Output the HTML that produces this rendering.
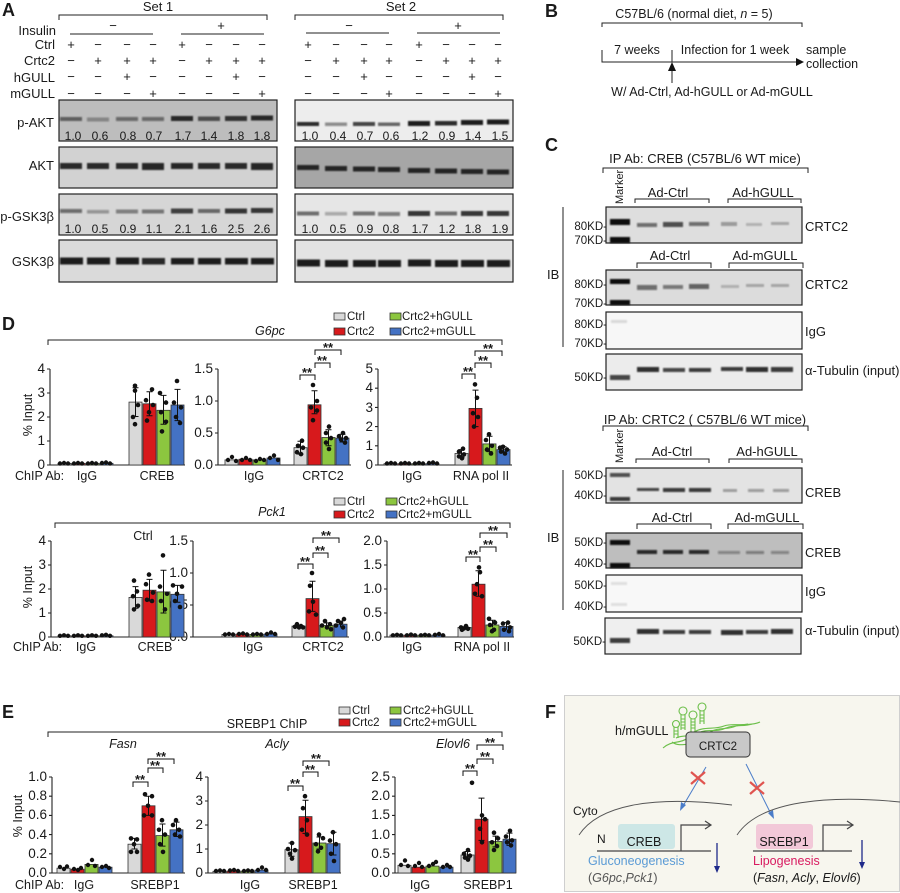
<!DOCTYPE html>
<html><head><meta charset="utf-8"><style>
html,body{margin:0;padding:0;background:#fff;}
svg{display:block;}
text{font-family:"Liberation Sans",Arial,sans-serif;fill:#1a1a1a;}
</style></head><body>
<svg width="900" height="893" viewBox="0 0 900 893" xmlns="http://www.w3.org/2000/svg">
<defs>
<filter id="b" x="-20%" y="-100%" width="140%" height="300%"><feGaussianBlur stdDeviation="0.9"/></filter>
</defs>
<rect width="900" height="893" fill="#fff"/>

<!-- ================= PANEL A ================= -->
<text x="2" y="16" font-size="18" font-weight="bold">A</text>
<text x="158" y="11" font-size="13" text-anchor="middle">Set 1</text>
<text x="401" y="11" font-size="13" text-anchor="middle">Set 2</text>
<g stroke="#222" stroke-width="1" fill="none">
<path d="M59 20V15H267V20"/><path d="M295 20V15H503V20"/>
<path d="M70 34H153M181 34H264M306 33H389M417 33H500"/>
</g>
<g font-size="13" text-anchor="end">
<text x="56" y="35">Insulin</text>
<text x="55" y="49">Ctrl</text>
<text x="55" y="65">Crtc2</text>
<text x="55" y="82">hGULL</text>
<text x="55" y="98">mGULL</text>
</g>
<g font-size="13" text-anchor="middle">
<text x="113" y="30">−</text><text x="221" y="30">+</text>
<text x="349" y="30">−</text><text x="458" y="30">+</text>
<text x="71 98 127 153 182 209 236 262 308 336 364 389 419 446 472 498" y="49">+−−−+−−−+−−−+−−−</text>
<text x="71 98 127 153 182 209 236 262 308 336 364 389 419 446 472 498" y="65">−+++−+++−+++−+++</text>
<text x="71 98 127 153 182 209 236 262 308 336 364 389 419 446 472 498" y="81">−−+−−−+−−−+−−−+−</text>
<text x="71 98 127 153 182 209 236 262 308 336 364 389 419 446 472 498" y="98">−−−+−−−+−−−+−−−+</text>
</g>
<!-- blot boxes -->
<g stroke="#222" stroke-width="1.2">
<rect x="59" y="100" width="218" height="41" fill="#bdbdbd"/>
<rect x="59" y="147" width="218" height="41" fill="#d2d2d2"/>
<rect x="59" y="194" width="218" height="41" fill="#d6d6d6"/>
<rect x="59" y="240" width="218" height="42" fill="#dadada"/>
<rect x="295" y="100" width="218" height="41" fill="#ededed"/>
<rect x="295" y="147" width="218" height="41" fill="#a6a6a6"/>
<rect x="295" y="194" width="218" height="41" fill="#e6e6e6"/>
<rect x="295" y="240" width="218" height="42" fill="#e3e3e3"/>
</g>
<g fill="#1a1a1a" filter="url(#b)">
<rect x="60" y="117" width="22" height="4" opacity="0.6"/>
<rect x="87" y="117.5" width="22" height="4" opacity="0.35"/>
<rect x="116" y="117" width="22" height="4" opacity="0.5"/>
<rect x="142" y="117" width="22" height="4" opacity="0.5"/>
<rect x="171" y="116" width="22" height="5" opacity="0.9"/>
<rect x="198" y="116.5" width="22" height="4.5" opacity="0.7"/>
<rect x="225" y="116" width="22" height="5" opacity="0.85"/>
<rect x="251" y="115.5" width="22" height="5" opacity="0.9"/>
<rect x="297" y="122" width="22" height="4" opacity="0.9"/>
<rect x="325" y="122.5" width="22" height="3.5" opacity="0.45"/>
<rect x="353" y="122" width="22" height="4" opacity="0.8"/>
<rect x="378" y="122.5" width="22" height="3.5" opacity="0.65"/>
<rect x="408" y="121" width="22" height="5" opacity="1"/>
<rect x="435" y="121" width="22" height="4.5" opacity="0.9"/>
<rect x="461" y="120" width="22" height="5" opacity="1"/>
<rect x="487" y="119.5" width="22" height="5" opacity="1"/>
<rect x="60" y="163" width="22" height="6" opacity="0.9"/>
<rect x="87" y="163" width="22" height="6" opacity="0.9"/>
<rect x="116" y="163" width="22" height="6" opacity="0.9"/>
<rect x="142" y="163" width="22" height="7" opacity="0.95"/>
<rect x="171" y="163" width="22" height="6" opacity="0.95"/>
<rect x="198" y="163" width="22" height="6" opacity="0.9"/>
<rect x="225" y="163" width="22" height="6" opacity="0.9"/>
<rect x="251" y="163" width="22" height="7" opacity="0.95"/>
<rect x="297" y="165" width="22" height="5" opacity="0.95"/>
<rect x="325" y="166" width="22" height="5" opacity="0.95"/>
<rect x="353" y="166.5" width="22" height="5" opacity="0.95"/>
<rect x="378" y="167" width="22" height="5" opacity="0.95"/>
<rect x="408" y="168" width="22" height="5" opacity="0.95"/>
<rect x="435" y="168.5" width="22" height="5" opacity="0.95"/>
<rect x="461" y="169" width="22" height="5" opacity="0.95"/>
<rect x="487" y="169.5" width="22" height="5" opacity="0.95"/>
<rect x="60" y="209" width="22" height="4" opacity="0.55"/>
<rect x="87" y="210" width="22" height="3.5" opacity="0.35"/>
<rect x="116" y="209.5" width="22" height="4" opacity="0.45"/>
<rect x="142" y="209.5" width="22" height="4" opacity="0.5"/>
<rect x="171" y="208.5" width="22" height="5" opacity="0.8"/>
<rect x="198" y="209" width="22" height="4" opacity="0.6"/>
<rect x="225" y="208.5" width="22" height="5" opacity="0.85"/>
<rect x="251" y="208" width="22" height="5" opacity="0.85"/>
<rect x="297" y="211.5" width="22" height="4" opacity="0.6"/>
<rect x="325" y="212" width="22" height="3.5" opacity="0.3"/>
<rect x="353" y="211.5" width="22" height="4" opacity="0.55"/>
<rect x="378" y="212" width="22" height="4" opacity="0.5"/>
<rect x="408" y="211" width="22" height="5" opacity="0.85"/>
<rect x="435" y="211.5" width="22" height="4" opacity="0.6"/>
<rect x="461" y="211" width="22" height="5" opacity="0.85"/>
<rect x="487" y="211" width="22" height="5" opacity="0.85"/>
<rect x="60" y="257.5" width="23" height="7" opacity="1"/>
<rect x="87" y="257.5" width="23" height="7" opacity="1"/>
<rect x="116" y="257.5" width="23" height="7" opacity="1"/>
<rect x="142" y="258" width="23" height="6.5" opacity="0.95"/>
<rect x="171" y="258" width="23" height="6.5" opacity="1"/>
<rect x="198" y="258" width="23" height="6.5" opacity="1"/>
<rect x="225" y="258" width="23" height="6.5" opacity="1"/>
<rect x="251" y="258" width="23" height="6.5" opacity="1"/>
<rect x="297" y="259.5" width="23" height="7" opacity="1"/>
<rect x="325" y="260" width="23" height="7" opacity="1"/>
<rect x="353" y="260" width="23" height="7" opacity="1"/>
<rect x="378" y="260" width="23" height="7" opacity="1"/>
<rect x="408" y="259.5" width="23" height="7" opacity="1"/>
<rect x="435" y="260" width="23" height="7" opacity="1"/>
<rect x="461" y="260" width="23" height="7" opacity="1"/>
<rect x="487" y="260" width="23" height="7" opacity="1"/>
</g>
<g font-size="12" text-anchor="middle" fill="#222">
<text x="73" y="140">1.0</text><text x="100" y="140">0.6</text><text x="128" y="140">0.8</text><text x="154" y="140">0.7</text><text x="183" y="140">1.7</text><text x="209" y="140">1.4</text><text x="236" y="140">1.8</text><text x="262" y="140">1.8</text>
<text x="310" y="140">1.0</text><text x="338" y="140">0.4</text><text x="365" y="140">0.7</text><text x="391" y="140">0.6</text><text x="420" y="140">1.2</text><text x="447" y="140">0.9</text><text x="473" y="140">1.4</text><text x="500" y="140">1.5</text>
<text x="73" y="233">1.0</text><text x="100" y="233">0.5</text><text x="128" y="233">0.9</text><text x="154" y="233">1.1</text><text x="183" y="233">2.1</text><text x="209" y="233">1.6</text><text x="236" y="233">2.5</text><text x="262" y="233">2.6</text>
<text x="310" y="233">1.0</text><text x="338" y="233">0.5</text><text x="365" y="233">0.9</text><text x="391" y="233">0.8</text><text x="420" y="233">1.7</text><text x="447" y="233">1.2</text><text x="473" y="233">1.8</text><text x="500" y="233">1.9</text>
</g>
<g font-size="13" text-anchor="end">
<text x="54" y="127">p-AKT</text>
<text x="54" y="170">AKT</text>
<text x="54" y="221">p-GSK3β</text>
<text x="54" y="266">GSK3β</text>
</g>

<!-- ================= PANEL B ================= -->
<text x="545" y="17" font-size="18" font-weight="bold">B</text>
<text x="694" y="18" font-size="12.5" text-anchor="middle">C57BL/6 (normal diet, <tspan font-style="italic">n</tspan> = 5)</text>
<g stroke="#222" stroke-width="1" fill="none">
<path d="M602 27V23H802V27"/>
<path d="M602 50V62H797"/>
<path d="M672 50V62"/>
<path d="M672 83V70"/>
</g>
<polygon points="796,58 804,62 796,66" fill="#111"/>
<polygon points="668,71 672,62 676,71" fill="#111"/>
<g font-size="12.5">
<text x="637" y="54" text-anchor="middle">7 weeks</text>
<text x="735" y="54" text-anchor="middle">Infection for 1 week</text>
<text x="806" y="54">sample</text>
<text x="806" y="68">collection</text>
<text x="712" y="96" text-anchor="middle">W/ Ad-Ctrl, Ad-hGULL or Ad-mGULL</text>
</g>

<!-- ================= PANEL C ================= -->
<text x="545" y="151" font-size="18" font-weight="bold">C</text>
<text x="705" y="163" font-size="13" text-anchor="middle">IP Ab: CREB (C57BL/6 WT mice)</text>
<text x="705" y="424" font-size="13" text-anchor="middle">IP Ab: CRTC2 ( C57BL/6 WT mice)</text>
<text transform="translate(623,204) rotate(-90)" font-size="11">Marker</text>
<text transform="translate(623,463) rotate(-90)" font-size="11">Marker</text>
<g stroke="#222" stroke-width="1" fill="none">
<path d="M603 173V168H808V173"/>
<path d="M603 431V426H808V431"/>
<path d="M635 203V199H709V203"/><path d="M728 203V199H801V203"/>
<path d="M637 268V263H711V268"/><path d="M729 268V263H803V268"/>
<path d="M636 463V459H709V463"/><path d="M729 463V459H802V463"/>
<path d="M637 529V524H711V529"/><path d="M728 529V524H803V529"/>
<path d="M563 207V347"/><path d="M563 470V610"/>
</g>
<g font-size="13" text-anchor="middle">
<text x="668" y="197">Ad-Ctrl</text><text x="763" y="197">Ad-hGULL</text>
<text x="670" y="260">Ad-Ctrl</text><text x="765" y="260">Ad-mGULL</text>
<text x="672" y="456">Ad-Ctrl</text><text x="767" y="456">Ad-hGULL</text>
<text x="672" y="522">Ad-Ctrl</text><text x="767" y="522">Ad-mGULL</text>
</g>
<g stroke="#222" stroke-width="1.2">
<rect x="606" y="207" width="196" height="36" fill="#dedede"/>
<rect x="606" y="270" width="196" height="35" fill="#dcdcdc"/>
<rect x="606" y="312" width="196" height="37" fill="#f7f7f7"/>
<rect x="606" y="354" width="196" height="36" fill="#ececec"/>
<rect x="606" y="468" width="196" height="35" fill="#e3e3e3"/>
<rect x="606" y="533" width="196" height="35" fill="#bebebe"/>
<rect x="606" y="575" width="196" height="37" fill="#f8f8f8"/>
<rect x="605" y="618" width="196" height="36" fill="#efefef"/>
</g>
<g fill="#111" filter="url(#b)">
<rect x="610" y="219" width="20" height="6" opacity="1"/>
<rect x="610" y="237" width="20" height="6" opacity="1"/>
<rect x="637" y="223" width="20" height="4" opacity="0.55"/>
<rect x="663" y="222" width="20" height="5" opacity="0.7"/>
<rect x="689" y="222" width="20" height="4" opacity="0.55"/>
<rect x="721" y="222" width="16" height="4" opacity="0.3"/>
<rect x="746" y="223" width="16" height="3" opacity="0.2"/>
<rect x="771" y="222" width="18" height="3" opacity="0.25"/>
<rect x="610" y="279" width="20" height="5" opacity="1"/>
<rect x="610" y="300" width="20" height="5" opacity="1"/>
<rect x="637" y="285" width="20" height="5" opacity="0.55"/>
<rect x="663" y="285" width="20" height="4" opacity="0.5"/>
<rect x="689" y="284" width="20" height="5" opacity="0.6"/>
<rect x="721" y="285" width="18" height="3" opacity="0.2"/>
<rect x="746" y="284" width="18" height="3" opacity="0.25"/>
<rect x="771" y="284" width="18" height="3" opacity="0.25"/>
<rect x="611" y="320" width="16" height="3" opacity="0.12"/>
<rect x="610" y="375" width="20" height="5" opacity="0.75"/>
<rect x="637" y="367" width="22" height="5" opacity="0.85"/>
<rect x="663" y="368" width="22" height="4" opacity="0.75"/>
<rect x="689" y="368" width="22" height="4" opacity="0.8"/>
<rect x="721" y="367" width="22" height="4" opacity="0.8"/>
<rect x="746" y="367" width="22" height="5" opacity="0.85"/>
<rect x="771" y="367" width="22" height="5" opacity="0.8"/>
<rect x="610" y="473" width="20" height="4" opacity="0.7"/>
<rect x="610" y="497" width="20" height="4" opacity="0.8"/>
<rect x="637" y="488" width="22" height="3" opacity="0.75"/>
<rect x="663" y="488" width="22" height="4" opacity="0.8"/>
<rect x="689" y="488" width="22" height="4" opacity="0.8"/>
<rect x="723" y="489" width="14" height="3" opacity="0.3"/>
<rect x="748" y="489" width="16" height="3" opacity="0.35"/>
<rect x="773" y="489" width="16" height="3" opacity="0.35"/>
<rect x="610" y="540" width="20" height="5" opacity="1"/>
<rect x="610" y="563" width="20" height="5" opacity="1"/>
<rect x="637" y="550" width="20" height="4" opacity="0.85"/>
<rect x="663" y="550" width="20" height="4" opacity="0.85"/>
<rect x="689" y="550" width="20" height="4" opacity="0.85"/>
<rect x="718" y="551" width="22" height="3" opacity="0.35"/>
<rect x="746" y="551" width="18" height="3" opacity="0.4"/>
<rect x="771" y="551" width="18" height="3" opacity="0.35"/>
<rect x="611" y="582" width="16" height="3" opacity="0.1"/>
<rect x="611" y="603" width="16" height="3" opacity="0.1"/>
<rect x="610" y="638" width="20" height="5" opacity="0.8"/>
<rect x="637" y="629" width="22" height="5" opacity="0.85"/>
<rect x="663" y="630" width="22" height="4" opacity="0.8"/>
<rect x="689" y="630" width="22" height="4" opacity="0.8"/>
<rect x="721" y="630" width="22" height="5" opacity="0.85"/>
<rect x="746" y="630" width="22" height="4" opacity="0.8"/>
<rect x="771" y="629" width="22" height="5" opacity="0.85"/>
</g>
<g font-size="11.5" text-anchor="end">
<text x="607" y="230">80KD-</text><text x="607" y="244">70KD-</text>
<text x="607" y="288">80KD-</text><text x="607" y="307">70KD-</text>
<text x="607" y="328">80KD-</text><text x="607" y="347">70KD-</text>
<text x="607" y="381">50KD-</text>
<text x="607" y="479">50KD-</text><text x="607" y="499">40KD-</text>
<text x="607" y="546">50KD-</text><text x="607" y="567">40KD-</text>
<text x="607" y="589">50KD-</text><text x="607" y="610">40KD-</text>
<text x="606" y="645">50KD-</text>
</g>
<g font-size="13">
<text x="805" y="231">CRTC2</text>
<text x="805" y="289">CRTC2</text>
<text x="805" y="336">IgG</text>
<text x="805" y="375">α-Tubulin (input)</text>
<text x="805" y="497">CREB</text>
<text x="805" y="557">CREB</text>
<text x="805" y="596">IgG</text>
<text x="805" y="635">α-Tubulin (input)</text>
<text x="547" y="279">IB</text>
<text x="547" y="542">IB</text>
</g>

<!-- ================= PANEL D ================= -->
<text x="2" y="330" font-size="18" font-weight="bold">D</text>
<g stroke="#333" stroke-width="0.8">
<rect x="334" y="313" width="11" height="7" fill="#d9d9d9"/>
<rect x="334" y="328" width="11" height="7" fill="#d7191c"/>
<rect x="390" y="313" width="11" height="7" fill="#8cc63f"/>
<rect x="390" y="328" width="11" height="7" fill="#4472c4"/>
<rect x="334" y="498" width="11" height="7" fill="#d9d9d9"/>
<rect x="334" y="511" width="11" height="7" fill="#d7191c"/>
<rect x="386" y="498" width="11" height="7" fill="#8cc63f"/>
<rect x="386" y="511" width="11" height="7" fill="#4472c4"/>
<rect x="339" y="707" width="11" height="7" fill="#d9d9d9"/>
<rect x="339" y="719" width="11" height="7" fill="#d7191c"/>
<rect x="390" y="707" width="11" height="7" fill="#8cc63f"/>
<rect x="390" y="719" width="11" height="7" fill="#4472c4"/>
</g>
<g font-size="11.5">
<text x="347" y="320">Ctrl</text><text x="347" y="335">Crtc2</text>
<text x="402" y="320">Crtc2+hGULL</text><text x="402" y="335">Crtc2+mGULL</text>
<text x="347" y="505">Ctrl</text><text x="347" y="518">Crtc2</text>
<text x="398" y="505">Crtc2+hGULL</text><text x="398" y="518">Crtc2+mGULL</text>
<text x="352" y="714">Ctrl</text><text x="352" y="726">Crtc2</text>
<text x="403" y="714">Crtc2+hGULL</text><text x="403" y="726">Crtc2+mGULL</text>
</g>
<g font-size="12.5" font-style="italic" text-anchor="middle">
<text x="270" y="335">G6pc</text>
<text x="272" y="516">Pck1</text>
<text x="123" y="748">Fasn</text>
<text x="277" y="748">Acly</text>
<text x="453" y="748">Elovl6</text>
</g>
<text x="267" y="728" font-size="12.5" text-anchor="middle">SREBP1 ChIP</text>
<text x="143" y="540" font-size="12.5" text-anchor="middle">Ctrl</text>
<g stroke="#222" stroke-width="1" fill="none">
<path d="M48 345V340H502V345"/>
<path d="M55 528V523H510V528"/>
<path d="M48 737V732H502V737"/>
</g>
<g font-size="12.5" text-anchor="middle">
<text transform="translate(32,415) rotate(-90)">% Input</text>
<text transform="translate(32,587) rotate(-90)">% Input</text>
<text transform="translate(22,816) rotate(-90)">% Input</text>
</g>

<g stroke="#222" stroke-width="1.1" fill="none">
<path d="M50 369V465H185M47 369H50M47 393H50M47 417H50M47 441H50M47 465H50"/>
<path d="M218 369V465H351M215 369H218M215 401H218M215 433H218M215 465H218"/>
<path d="M378 369V465H512M375 369H378M375 388.2H378M375 407.4H378M375 426.6H378M375 445.8H378M375 465H378"/>
<path d="M51 541V637H186M48 541H51M48 565H51M48 589H51M48 613H51M48 637H51"/>
<path d="M193 541V637H349M190 541H193M190 573H193M190 605H193M190 637H193"/>
<path d="M387 541V637H514M384 541H387M384 565H387M384 589H387M384 613H387M384 637H387"/>
<path d="M52 777V873H185M49 777H52M49 796.2H52M49 815.4H52M49 834.6H52M49 853.8H52M49 873H52"/>
<path d="M208 777V873H341M205 777H208M205 801H208M205 825H208M205 849H208M205 873H208"/>
<path d="M395 777V873H516M392 777H395M392 796.2H395M392 815.4H395M392 834.6H395M392 853.8H395M392 873H395"/>
</g>
<g font-size="13.5" text-anchor="end">
<text x="45" y="469">0</text><text x="45" y="445">1</text><text x="45" y="421">2</text><text x="45" y="397">3</text><text x="45" y="373">4</text>
<text x="213" y="469">0.0</text><text x="213" y="437">0.5</text><text x="213" y="405">1.0</text><text x="213" y="373">1.5</text>
<text x="373" y="469">0</text><text x="373" y="450">1</text><text x="373" y="431">2</text><text x="373" y="412">3</text><text x="373" y="392">4</text><text x="373" y="373">5</text>
<text x="46" y="641">0</text><text x="46" y="617">1</text><text x="46" y="593">2</text><text x="46" y="569">3</text><text x="46" y="545">4</text>
<text x="188" y="641">0.0</text><text x="188" y="609">0.5</text><text x="188" y="577">1.0</text><text x="188" y="545">1.5</text>
<text x="382" y="641">0.0</text><text x="382" y="617">0.5</text><text x="382" y="593">1.0</text><text x="382" y="569">1.5</text><text x="382" y="545">2.0</text>
<text x="47" y="877">0.0</text><text x="47" y="858">0.2</text><text x="47" y="839">0.4</text><text x="47" y="819">0.6</text><text x="47" y="800">0.8</text><text x="47" y="781">1.0</text>
<text x="203" y="877">0</text><text x="203" y="853">1</text><text x="203" y="829">2</text><text x="203" y="805">3</text><text x="203" y="781">4</text>
<text x="390" y="877">0.0</text><text x="390" y="858">0.5</text><text x="390" y="839">1.0</text><text x="390" y="819">1.5</text><text x="390" y="800">2.0</text><text x="390" y="781">2.5</text>
</g>
<g font-size="12.5" text-anchor="middle">
<text x="15" y="480" text-anchor="start">ChIP Ab:</text>
<text x="87" y="480">IgG</text><text x="157" y="480">CREB</text><text x="254" y="480">IgG</text><text x="323" y="480">CRTC2</text><text x="412" y="480">IgG</text><text x="481" y="480">RNA pol II</text>
<text x="13" y="651" text-anchor="start">ChIP Ab:</text>
<text x="86" y="651">IgG</text><text x="155" y="651">CREB</text><text x="253" y="651">IgG</text><text x="323" y="651">CRTC2</text><text x="412" y="651">IgG</text><text x="482" y="651">RNA pol II</text>
<text x="15" y="889" text-anchor="start">ChIP Ab:</text>
<text x="84" y="889">IgG</text><text x="155" y="889">SREBP1</text><text x="250" y="889">IgG</text><text x="313" y="889">SREBP1</text><text x="420" y="889">IgG</text><text x="488" y="889">SREBP1</text>
</g>

<g stroke="#333" stroke-width="0.8">
<rect x="58" y="463.3" width="13" height="1.7" fill="#d9d9d9"/><rect x="72" y="463.3" width="13" height="1.7" fill="#d7191c"/><rect x="86" y="463.3" width="13" height="1.7" fill="#8cc63f"/><rect x="100" y="463.3" width="13" height="1.7" fill="#4472c4"/>
<rect x="129" y="402.1" width="13" height="62.9" fill="#d9d9d9"/>
<rect x="143" y="403.8" width="13" height="61.2" fill="#d7191c"/>
<rect x="157" y="410.3" width="13" height="54.7" fill="#8cc63f"/>
<rect x="171" y="405" width="13" height="60" fill="#4472c4"/>
<rect x="225" y="459.9" width="13" height="5.1" fill="#d9d9d9"/><rect x="239" y="459.2" width="13" height="5.8" fill="#d7191c"/><rect x="253" y="459.9" width="13" height="5.1" fill="#8cc63f"/><rect x="267" y="458" width="13" height="7" fill="#4472c4"/>
<rect x="294" y="447.7" width="13" height="17.3" fill="#d9d9d9"/>
<rect x="308" y="404.8" width="13" height="60.2" fill="#d7191c"/>
<rect x="322" y="437.5" width="13" height="27.5" fill="#8cc63f"/>
<rect x="336" y="438.1" width="13" height="26.9" fill="#4472c4"/>
<rect x="384" y="463.7" width="13" height="1.3" fill="#d9d9d9"/><rect x="398" y="463.7" width="13" height="1.3" fill="#d7191c"/><rect x="412" y="463.7" width="13" height="1.3" fill="#8cc63f"/><rect x="426" y="463.7" width="13" height="1.3" fill="#4472c4"/>
<rect x="455" y="453.5" width="13" height="11.5" fill="#d9d9d9"/>
<rect x="469" y="408.4" width="13" height="56.6" fill="#d7191c"/>
<rect x="483" y="443.9" width="13" height="21.1" fill="#8cc63f"/>
<rect x="497" y="449.6" width="13" height="15.4" fill="#4472c4"/>
<rect x="58" y="635.8" width="13" height="1.2" fill="#d9d9d9"/><rect x="72" y="635.8" width="13" height="1.2" fill="#d7191c"/><rect x="86" y="635.8" width="13" height="1.2" fill="#8cc63f"/><rect x="100" y="635.8" width="13" height="1.2" fill="#4472c4"/>
<rect x="129" y="597.4" width="13" height="39.6" fill="#d9d9d9"/>
<rect x="143" y="590.2" width="13" height="46.8" fill="#d7191c"/>
<rect x="157" y="591.9" width="13" height="45.1" fill="#8cc63f"/>
<rect x="171" y="594.3" width="13" height="42.7" fill="#4472c4"/>
<rect x="222" y="634.4" width="13" height="2.6" fill="#d9d9d9"/><rect x="236" y="634" width="13" height="3" fill="#d7191c"/><rect x="250" y="634.4" width="13" height="2.6" fill="#8cc63f"/><rect x="264" y="634" width="13" height="3" fill="#4472c4"/>
<rect x="292" y="626.1" width="13" height="10.9" fill="#d9d9d9"/>
<rect x="306" y="598.6" width="13" height="38.4" fill="#d7191c"/>
<rect x="320" y="625.5" width="13" height="11.5" fill="#8cc63f"/>
<rect x="334" y="624.2" width="13" height="12.8" fill="#4472c4"/>
<rect x="390" y="635.1" width="13" height="1.9" fill="#d9d9d9"/><rect x="404" y="635.1" width="13" height="1.9" fill="#d7191c"/><rect x="418" y="635.1" width="13" height="1.9" fill="#8cc63f"/><rect x="432" y="635.1" width="13" height="1.9" fill="#4472c4"/>
<rect x="458" y="627.4" width="13" height="9.6" fill="#d9d9d9"/>
<rect x="472" y="584.2" width="13" height="52.8" fill="#d7191c"/>
<rect x="486" y="625" width="13" height="12" fill="#8cc63f"/>
<rect x="500" y="626.4" width="13" height="10.6" fill="#4472c4"/>
<rect x="57" y="868.2" width="13" height="4.8" fill="#d9d9d9"/><rect x="71" y="869.2" width="13" height="3.8" fill="#d7191c"/><rect x="85" y="864.4" width="13" height="8.6" fill="#8cc63f"/><rect x="99" y="867.2" width="13" height="5.8" fill="#4472c4"/>
<rect x="128" y="844.2" width="13" height="28.8" fill="#d9d9d9"/>
<rect x="142" y="805.8" width="13" height="67.2" fill="#d7191c"/>
<rect x="156" y="835.6" width="13" height="37.4" fill="#8cc63f"/>
<rect x="170" y="829.8" width="13" height="43.2" fill="#4472c4"/>
<rect x="213" y="871.3" width="13" height="1.7" fill="#d9d9d9"/><rect x="227" y="871.1" width="13" height="1.9" fill="#d7191c"/><rect x="241" y="871.1" width="13" height="1.9" fill="#8cc63f"/><rect x="255" y="870.1" width="13" height="2.9" fill="#4472c4"/>
<rect x="285" y="849.7" width="13" height="23.3" fill="#d9d9d9"/>
<rect x="299" y="816.6" width="13" height="56.4" fill="#d7191c"/>
<rect x="313" y="843" width="13" height="30" fill="#8cc63f"/>
<rect x="327" y="843.7" width="13" height="29.3" fill="#4472c4"/>
<rect x="398" y="865.3" width="13" height="7.7" fill="#d9d9d9"/><rect x="412" y="867.2" width="13" height="5.8" fill="#d7191c"/><rect x="426" y="866.1" width="13" height="6.9" fill="#8cc63f"/><rect x="440" y="867.2" width="13" height="5.8" fill="#4472c4"/>
<rect x="461" y="855" width="13" height="18" fill="#d9d9d9"/>
<rect x="475" y="819.2" width="13" height="53.8" fill="#d7191c"/>
<rect x="489" y="841.5" width="13" height="31.5" fill="#8cc63f"/>
<rect x="503" y="839.2" width="13" height="33.8" fill="#4472c4"/>
</g>

<g stroke="#111" stroke-width="1" fill="none">
<path d="M135.5 387.7V416.5M132.5 387.7H138.5M132.5 416.5H138.5"/>
<path d="M149.5 391.8V415.8M146.5 391.8H152.5M146.5 415.8H152.5"/>
<path d="M163.5 395.4V424.2M160.5 395.4H166.5M160.5 424.2H166.5"/>
<path d="M177.5 389.4V420.6M174.5 389.4H180.5M174.5 420.6H180.5"/>
<path d="M300.5 441.3V454.1M297.5 441.3H303.5M297.5 454.1H303.5"/>
<path d="M314.5 390.8V413.8M311.5 390.8H317.5M311.5 413.8H317.5"/>
<path d="M328.5 429.8V445.8M325.5 429.8H331.5M325.5 445.8H331.5"/>
<path d="M342.5 434.3V442M339.5 434.3H345.5M339.5 442H345.5"/>
<path d="M461.5 449.6V457.3M458.5 449.6H464.5M458.5 457.3H464.5"/>
<path d="M475.5 390.1V426.6M472.5 390.1H478.5M472.5 426.6H478.5"/>
<path d="M489.5 436.2V451.6M486.5 436.2H492.5M486.5 451.6H492.5"/>
<path d="M503.5 446.8V452.5M500.5 446.8H506.5M500.5 452.5H506.5"/>
<path d="M135.5 586.6V608.2M132.5 586.6H138.5M132.5 608.2H138.5"/>
<path d="M149.5 579.4V601M146.5 579.4H152.5M146.5 601H152.5"/>
<path d="M163.5 570.3V613M160.5 570.3H166.5M160.5 613H166.5"/>
<path d="M177.5 585.4V602.2M174.5 585.4H180.5M174.5 602.2H180.5"/>
<path d="M312.5 581.3V611.4M309.5 581.3H315.5M309.5 611.4H315.5"/>
<path d="M326.5 622.9V628M323.5 622.9H329.5"/>
<path d="M340.5 621V627.4M337.5 621H343.5"/>
<path d="M478.5 570.8V596.2M475.5 570.8H481.5M475.5 596.2H481.5"/>
<path d="M492.5 620.2V627.4M489.5 620.2H495.5"/>
<path d="M506.5 622.6V629.8M503.5 622.6H509.5"/>
<path d="M134.5 838.4V849M131.5 838.4H137.5M131.5 849H137.5"/>
<path d="M148.5 796.2V815.4M145.5 796.2H151.5M145.5 815.4H151.5"/>
<path d="M162.5 824V846.1M159.5 824H165.5M159.5 846.1H165.5"/>
<path d="M176.5 822.1V836.5M173.5 822.1H179.5M173.5 836.5H179.5"/>
<path d="M291.5 843V856.2M288.5 843H294.5M288.5 856.2H294.5"/>
<path d="M305.5 800.3V833.4M302.5 800.3H308.5M302.5 833.4H308.5"/>
<path d="M319.5 837V849M316.5 837H322.5M316.5 849H322.5"/>
<path d="M333.5 832.2V855M330.5 832.2H336.5M330.5 855H336.5"/>
<path d="M467.5 851.5V858.4M464.5 851.5H470.5M464.5 858.4H470.5"/>
<path d="M481.5 798.1V840.4M478.5 798.1H484.5M478.5 840.4H484.5"/>
<path d="M495.5 836.1V846.9M492.5 836.1H498.5M492.5 846.9H498.5"/>
<path d="M509.5 833.1V845.4M506.5 833.1H512.5M506.5 845.4H512.5"/>
</g>

<g fill="#111">
<circle cx="60" cy="463.5" r="2.2"/><circle cx="64" cy="463" r="2.2"/><circle cx="68" cy="463.5" r="2.2"/>
<circle cx="74" cy="463.5" r="2.2"/><circle cx="78" cy="463" r="2.2"/><circle cx="82" cy="463.5" r="2.2"/>
<circle cx="88" cy="463.5" r="2.2"/><circle cx="92" cy="463" r="2.2"/><circle cx="96" cy="463.5" r="2.2"/>
<circle cx="102" cy="463" r="2.2"/><circle cx="106" cy="462.5" r="2.2"/><circle cx="110" cy="463.5" r="2.2"/>
<circle cx="135" cy="385.8" r="2.3"/><circle cx="135" cy="390.6" r="2.3"/><circle cx="138" cy="405" r="2.3"/><circle cx="133" cy="417" r="2.3"/><circle cx="135" cy="424.2" r="2.3"/>
<circle cx="152" cy="389.4" r="2.3"/><circle cx="146" cy="400.2" r="2.3"/><circle cx="153" cy="405" r="2.3"/><circle cx="149" cy="412.2" r="2.3"/><circle cx="147" cy="420.6" r="2.3"/>
<circle cx="160" cy="393" r="2.3"/><circle cx="166" cy="402.6" r="2.3"/><circle cx="161" cy="412.2" r="2.3"/><circle cx="166" cy="421.8" r="2.3"/><circle cx="162" cy="431.4" r="2.3"/>
<circle cx="177" cy="381" r="2.3"/><circle cx="174" cy="402.6" r="2.3"/><circle cx="181" cy="407.4" r="2.3"/><circle cx="176" cy="417" r="2.3"/><circle cx="180" cy="423" r="2.3"/>
<circle cx="228" cy="460" r="2.2"/><circle cx="232" cy="457" r="2.2"/><circle cx="236" cy="461" r="2.2"/>
<circle cx="242" cy="460" r="2.2"/><circle cx="246" cy="458" r="2.2"/><circle cx="250" cy="460" r="2.2"/>
<circle cx="256" cy="461" r="2.2"/><circle cx="260" cy="459" r="2.2"/><circle cx="264" cy="460" r="2.2"/>
<circle cx="270" cy="458" r="2.2"/><circle cx="274" cy="455.5" r="2.2"/><circle cx="278" cy="460" r="2.2"/>
<circle cx="302" cy="440.7" r="2.3"/><circle cx="298" cy="445.8" r="2.3"/><circle cx="303" cy="447.7" r="2.3"/><circle cx="297" cy="452.2" r="2.3"/><circle cx="301" cy="454.1" r="2.3"/>
<circle cx="313" cy="385" r="2.3"/><circle cx="317" cy="401" r="2.3"/><circle cx="311" cy="407.4" r="2.3"/><circle cx="317" cy="410.6" r="2.3"/><circle cx="313" cy="420.2" r="2.3"/>
<circle cx="329" cy="426.6" r="2.3"/><circle cx="326" cy="433" r="2.3"/><circle cx="331" cy="438.1" r="2.3"/><circle cx="326" cy="442.6" r="2.3"/><circle cx="329" cy="449" r="2.3"/>
<circle cx="343" cy="433" r="2.3"/><circle cx="339" cy="436.2" r="2.3"/><circle cx="346" cy="438.1" r="2.3"/><circle cx="341" cy="439.4" r="2.3"/><circle cx="345" cy="442.6" r="2.3"/>
<circle cx="387" cy="463.5" r="2.2"/><circle cx="391" cy="463" r="2.2"/><circle cx="395" cy="463.5" r="2.2"/>
<circle cx="401" cy="463.5" r="2.2"/><circle cx="405" cy="463" r="2.2"/><circle cx="409" cy="463.5" r="2.2"/>
<circle cx="415" cy="463.5" r="2.2"/><circle cx="419" cy="463" r="2.2"/><circle cx="423" cy="463.5" r="2.2"/>
<circle cx="429" cy="463" r="2.2"/><circle cx="433" cy="462.5" r="2.2"/><circle cx="437" cy="463.5" r="2.2"/>
<circle cx="463" cy="448.7" r="2.3"/><circle cx="459" cy="451.6" r="2.3"/><circle cx="464" cy="454.4" r="2.3"/><circle cx="459" cy="456.4" r="2.3"/><circle cx="462" cy="458.3" r="2.3"/>
<circle cx="475" cy="384.4" r="2.3"/><circle cx="477" cy="397.8" r="2.3"/><circle cx="473" cy="413.2" r="2.3"/><circle cx="478" cy="417" r="2.3"/><circle cx="474" cy="426.6" r="2.3"/>
<circle cx="489" cy="434.3" r="2.3"/><circle cx="486" cy="440" r="2.3"/><circle cx="492" cy="445.8" r="2.3"/><circle cx="487" cy="449.6" r="2.3"/><circle cx="491" cy="453.5" r="2.3"/>
<circle cx="503" cy="446.8" r="2.3"/><circle cx="500" cy="447.7" r="2.3"/><circle cx="507" cy="449.6" r="2.3"/><circle cx="501" cy="451.6" r="2.3"/><circle cx="505" cy="453.5" r="2.3"/>
<circle cx="60" cy="635.8" r="2.2"/><circle cx="64" cy="635.3" r="2.2"/><circle cx="68" cy="635.8" r="2.2"/>
<circle cx="74" cy="635.8" r="2.2"/><circle cx="78" cy="635.3" r="2.2"/><circle cx="82" cy="635.8" r="2.2"/>
<circle cx="88" cy="635.8" r="2.2"/><circle cx="92" cy="635.3" r="2.2"/><circle cx="96" cy="635.8" r="2.2"/>
<circle cx="102" cy="635.3" r="2.2"/><circle cx="106" cy="634.8" r="2.2"/><circle cx="110" cy="635.8" r="2.2"/>
<circle cx="134" cy="580.6" r="2.3"/><circle cx="137" cy="591.4" r="2.3"/><circle cx="133" cy="596.2" r="2.3"/><circle cx="138" cy="605.8" r="2.3"/><circle cx="134" cy="609.4" r="2.3"/>
<circle cx="149" cy="574.6" r="2.3"/><circle cx="146" cy="584.2" r="2.3"/><circle cx="153" cy="592.6" r="2.3"/><circle cx="147" cy="599.8" r="2.3"/><circle cx="152" cy="601" r="2.3"/>
<circle cx="163" cy="555.4" r="2.3"/><circle cx="160" cy="586.6" r="2.3"/><circle cx="167" cy="593.8" r="2.3"/><circle cx="161" cy="601" r="2.3"/><circle cx="165" cy="609.4" r="2.3"/>
<circle cx="173" cy="585.4" r="2.3"/><circle cx="182" cy="586.6" r="2.3"/><circle cx="177" cy="593.8" r="2.3"/><circle cx="175" cy="601" r="2.3"/><circle cx="180" cy="607" r="2.3"/>
<circle cx="225" cy="634.5" r="2.2"/><circle cx="229" cy="634" r="2.2"/><circle cx="233" cy="634.5" r="2.2"/>
<circle cx="239" cy="634" r="2.2"/><circle cx="243" cy="633.5" r="2.2"/><circle cx="247" cy="634.5" r="2.2"/>
<circle cx="253" cy="634.5" r="2.2"/><circle cx="257" cy="634" r="2.2"/><circle cx="261" cy="634.5" r="2.2"/>
<circle cx="267" cy="634" r="2.2"/><circle cx="271" cy="632.5" r="2.2"/><circle cx="275" cy="634" r="2.2"/>
<circle cx="297" cy="624.2" r="2.3"/><circle cx="301" cy="626.1" r="2.3"/><circle cx="295" cy="626.8" r="2.3"/><circle cx="299" cy="627.4" r="2.3"/><circle cx="303" cy="627.4" r="2.3"/>
<circle cx="312" cy="573" r="2.3"/><circle cx="310" cy="585.8" r="2.3"/><circle cx="313" cy="601.8" r="2.3"/><circle cx="309" cy="611.4" r="2.3"/><circle cx="316" cy="614.6" r="2.3"/>
<circle cx="325" cy="621" r="2.3"/><circle cx="330" cy="624.2" r="2.3"/><circle cx="322" cy="625.5" r="2.3"/><circle cx="327" cy="627.4" r="2.3"/><circle cx="331" cy="629.3" r="2.3"/>
<circle cx="344" cy="619.1" r="2.3"/><circle cx="338" cy="621" r="2.3"/><circle cx="341" cy="622.9" r="2.3"/><circle cx="336" cy="625.5" r="2.3"/><circle cx="343" cy="627.4" r="2.3"/>
<circle cx="393" cy="635.3" r="2.2"/><circle cx="397" cy="634.8" r="2.2"/><circle cx="401" cy="635.3" r="2.2"/>
<circle cx="407" cy="635.3" r="2.2"/><circle cx="411" cy="634.6" r="2.2"/><circle cx="415" cy="635.3" r="2.2"/>
<circle cx="421" cy="635.3" r="2.2"/><circle cx="425" cy="634.8" r="2.2"/><circle cx="429" cy="635.3" r="2.2"/>
<circle cx="435" cy="634.8" r="2.2"/><circle cx="439" cy="634" r="2.2"/><circle cx="443" cy="635.3" r="2.2"/>
<circle cx="466" cy="626" r="2.3"/><circle cx="461" cy="627.4" r="2.3"/><circle cx="464" cy="628.4" r="2.3"/><circle cx="468" cy="628.8" r="2.3"/><circle cx="462" cy="629.8" r="2.3"/>
<circle cx="479" cy="567.4" r="2.3"/><circle cx="480" cy="572.2" r="2.3"/><circle cx="477" cy="584.2" r="2.3"/><circle cx="475" cy="593.8" r="2.3"/><circle cx="482" cy="596.2" r="2.3"/>
<circle cx="489" cy="618.8" r="2.3"/><circle cx="495" cy="622.6" r="2.3"/><circle cx="490" cy="625" r="2.3"/><circle cx="494" cy="629.8" r="2.3"/><circle cx="492" cy="631.2" r="2.3"/>
<circle cx="508" cy="622.6" r="2.3"/><circle cx="503" cy="623.6" r="2.3"/><circle cx="510" cy="627.4" r="2.3"/><circle cx="504" cy="629.8" r="2.3"/><circle cx="509" cy="631.2" r="2.3"/>
<circle cx="60" cy="867" r="2.2"/><circle cx="64" cy="869" r="2.2"/><circle cx="67" cy="866.5" r="2.2"/>
<circle cx="74" cy="869" r="2.2"/><circle cx="78" cy="870" r="2.2"/><circle cx="81" cy="868" r="2.2"/>
<circle cx="88" cy="865" r="2.2"/><circle cx="92" cy="860" r="2.2"/><circle cx="95" cy="866" r="2.2"/>
<circle cx="102" cy="867" r="2.2"/><circle cx="106" cy="866" r="2.2"/><circle cx="109" cy="868" r="2.2"/>
<circle cx="131" cy="838.4" r="2.3"/><circle cx="137" cy="839.4" r="2.3"/><circle cx="134" cy="844.2" r="2.3"/><circle cx="131" cy="851.9" r="2.3"/><circle cx="137" cy="851.9" r="2.3"/>
<circle cx="145" cy="794.3" r="2.3"/><circle cx="152" cy="796.2" r="2.3"/><circle cx="148" cy="805.8" r="2.3"/><circle cx="144" cy="815.4" r="2.3"/><circle cx="152" cy="815.4" r="2.3"/>
<circle cx="162" cy="820.2" r="2.3"/><circle cx="159" cy="829.8" r="2.3"/><circle cx="165" cy="834.6" r="2.3"/><circle cx="160" cy="844.2" r="2.3"/><circle cx="163" cy="851.9" r="2.3"/>
<circle cx="176" cy="820.2" r="2.3"/><circle cx="173" cy="825" r="2.3"/><circle cx="179" cy="829.8" r="2.3"/><circle cx="175" cy="834.6" r="2.3"/><circle cx="180" cy="836.5" r="2.3"/>
<circle cx="216" cy="871" r="2.2"/><circle cx="220" cy="870.5" r="2.2"/><circle cx="224" cy="871" r="2.2"/>
<circle cx="230" cy="870.5" r="2.2"/><circle cx="234" cy="870" r="2.2"/><circle cx="238" cy="871" r="2.2"/>
<circle cx="244" cy="871" r="2.2"/><circle cx="248" cy="870.5" r="2.2"/><circle cx="252" cy="871" r="2.2"/>
<circle cx="258" cy="870" r="2.2"/><circle cx="262" cy="867.5" r="2.2"/><circle cx="266" cy="870" r="2.2"/>
<circle cx="292" cy="843" r="2.3"/><circle cx="288" cy="849" r="2.3"/><circle cx="295" cy="850.2" r="2.3"/><circle cx="290" cy="853.8" r="2.3"/><circle cx="292" cy="858.6" r="2.3"/>
<circle cx="305" cy="796.2" r="2.3"/><circle cx="303" cy="808.2" r="2.3"/><circle cx="307" cy="820.2" r="2.3"/><circle cx="302" cy="829.8" r="2.3"/><circle cx="307" cy="834.6" r="2.3"/>
<circle cx="319" cy="834.6" r="2.3"/><circle cx="323" cy="838.2" r="2.3"/><circle cx="316" cy="844.2" r="2.3"/><circle cx="321" cy="847.8" r="2.3"/><circle cx="318" cy="851.4" r="2.3"/>
<circle cx="333" cy="832.2" r="2.3"/><circle cx="330" cy="840.6" r="2.3"/><circle cx="336" cy="844.2" r="2.3"/><circle cx="331" cy="853.8" r="2.3"/><circle cx="334" cy="861" r="2.3"/>
<circle cx="401" cy="865" r="2.2"/><circle cx="405" cy="860.5" r="2.2"/><circle cx="408" cy="866" r="2.2"/>
<circle cx="415" cy="866" r="2.2"/><circle cx="419" cy="863" r="2.2"/><circle cx="422" cy="867" r="2.2"/>
<circle cx="429" cy="866" r="2.2"/><circle cx="433" cy="864" r="2.2"/><circle cx="436" cy="862" r="2.2"/>
<circle cx="443" cy="867" r="2.2"/><circle cx="447" cy="865" r="2.2"/><circle cx="450" cy="867" r="2.2"/>
<circle cx="468" cy="850" r="2.3"/><circle cx="464" cy="853.8" r="2.3"/><circle cx="470" cy="855.7" r="2.3"/><circle cx="465" cy="857.6" r="2.3"/><circle cx="468" cy="859.6" r="2.3"/>
<circle cx="472" cy="782.8" r="2.3"/><circle cx="482" cy="815.4" r="2.3"/><circle cx="485" cy="819.2" r="2.3"/><circle cx="480" cy="828.8" r="2.3"/><circle cx="482" cy="842.3" r="2.3"/>
<circle cx="494" cy="832.7" r="2.3"/><circle cx="498" cy="838.4" r="2.3"/><circle cx="492" cy="842.3" r="2.3"/><circle cx="497" cy="846.1" r="2.3"/><circle cx="494" cy="850" r="2.3"/>
<circle cx="510" cy="830.8" r="2.3"/><circle cx="506" cy="836.5" r="2.3"/><circle cx="512" cy="840.4" r="2.3"/><circle cx="507" cy="842.3" r="2.3"/><circle cx="511" cy="845.4" r="2.3"/>
</g>

<g stroke="#111" stroke-width="1" fill="none">
<path d="M300 380V375H315V380M315 368V363H330V368M315 355V350H341V355"/>
<path d="M462 379V374H475V379M475 368V363H491V368M475 356V351H502V356"/>
<path d="M298 569V564H313V569M313 558V553H328V558M313 543V538H339V543"/>
<path d="M466 562V557H480V562M480 552V547H496V552M480 538V533H507V538"/>
<path d="M133 787V782H148V787M148 773V768H163V773M148 764V759H174V764"/>
<path d="M288 791V786H303V791M303 777V772H318V777M303 766V761H329V766"/>
<path d="M463 776V771H477V776M477 764V759H493V764M477 750V745H503V750"/>
</g>
<g font-size="13" font-weight="bold" text-anchor="middle">
<text x="307" y="377">**</text><text x="322" y="365">**</text><text x="328" y="352">**</text>
<text x="468" y="376">**</text><text x="483" y="365">**</text><text x="488" y="353">**</text>
<text x="305" y="566">**</text><text x="320" y="555">**</text><text x="326" y="540">**</text>
<text x="473" y="559">**</text><text x="488" y="549">**</text><text x="493" y="535">**</text>
<text x="140" y="784">**</text><text x="155" y="770">**</text><text x="161" y="761">**</text>
<text x="295" y="788">**</text><text x="310" y="774">**</text><text x="316" y="763">**</text>
<text x="470" y="773">**</text><text x="485" y="761">**</text><text x="490" y="747">**</text>
</g>
<text x="2" y="718" font-size="18" font-weight="bold">E</text>

<!-- ================= PANEL F ================= -->
<text x="545" y="718" font-size="18" font-weight="bold">F</text>
<rect x="564.5" y="695.5" width="335" height="196" fill="#f7f6ee" stroke="#cfcfcf" stroke-width="1"/>
<g stroke="#6cbf4a" stroke-width="1.1" fill="none">
<circle cx="683" cy="711" r="4"/>
<circle cx="693" cy="715" r="4"/>
<circle cx="702" cy="707" r="4"/>
<circle cx="676" cy="724" r="3.5"/>
<path d="M681 715V730M685 715V730M681 719H685M681 722H685M681 725H685M681 728H685"/>
<path d="M691 719V732M695 719V732M691 722H695M691 725H695M691 728H695"/>
<path d="M700 711V724M704 711V724M700 715H704M700 718H704M700 721H704"/>
<path d="M674 727V738M678 727V738M674 731H678M674 734H678"/>
<path d="M663 748C672 740 680 744 688 738C696 732 704 736 712 731C720 727 728 730 736 726C744 723 752 726 760 722"/>
<path d="M676 738C684 734 690 738 698 733C708 728 716 733 726 728C736 724 744 727 752 724"/>
<path d="M694 732C704 726 714 730 724 726C732 723 740 726 748 724"/>
<path d="M672 742C680 748 690 742 700 744"/>
</g>
<rect x="686" y="732" width="64" height="25" rx="4" fill="#c8c8c8" stroke="#333" stroke-width="1"/>
<text x="718" y="750" font-size="11.5" text-anchor="middle">CRTC2</text>
<text x="615" y="735" font-size="12.5">h/mGULL</text>
<g stroke="#4a7cc9" stroke-width="1" fill="none">
<path d="M706 767L683 806"/>
<path d="M746 764L771 814"/>
</g>
<polygon points="680,811 681,802 686,805" fill="#4a7cc9"/>
<polygon points="774,819 768,813 773,810" fill="#4a7cc9"/>
<g stroke="#e0544f" stroke-width="2.2">
<path d="M691 772L705 784M705 772L691 784"/>
<path d="M750 782L764 794M764 782L750 794"/>
</g>
<g stroke="#555" stroke-width="0.9" fill="none">
<path d="M579 835C598 806 650 795 732 805"/>
<path d="M737 835C760 800 830 795 900 802"/>
</g>
<text x="573" y="815" font-size="12">Cyto</text>
<text x="597" y="843" font-size="12">N</text>
<rect x="618" y="824" width="57" height="25" rx="3" fill="#cde7e6"/>
<text x="644" y="846" font-size="12.5" text-anchor="middle">CREB</text>
<rect x="756" y="824" width="57" height="25" rx="3" fill="#f2c8d8"/>
<text x="784" y="846" font-size="12.5" text-anchor="middle">SREBP1</text>
<g stroke="#444" stroke-width="1.2" fill="none">
<path d="M597 851H711"/>
<path d="M681 851V825H711M705 821L711 825L705 829"/>
<path d="M753 851H852"/>
<path d="M823 851V825H853M847 821L853 825L847 829"/>
</g>
<g stroke="#1f2a8a" stroke-width="1.3">
<path d="M717 843V867"/><path d="M862 840V863"/>
</g>
<polygon points="714,866 717,873 720,866" fill="#1f2a8a"/>
<polygon points="859,862 862,869 865,862" fill="#1f2a8a"/>
<text x="588" y="865" font-size="12.5" style="fill:#5b9bd5">Gluconeogenesis</text>
<text x="588" y="882" font-size="12.5" style="fill:#555">(<tspan font-style="italic">G6pc</tspan>,<tspan font-style="italic">Pck1</tspan>)</text>
<text x="753" y="865" font-size="12.5" style="fill:#d81b60">Lipogenesis</text>
<text x="753" y="882" font-size="12.5">(<tspan font-style="italic">Fasn</tspan>, <tspan font-style="italic">Acly</tspan>, <tspan font-style="italic">Elovl6</tspan>)</text>
</svg>
</body></html>
